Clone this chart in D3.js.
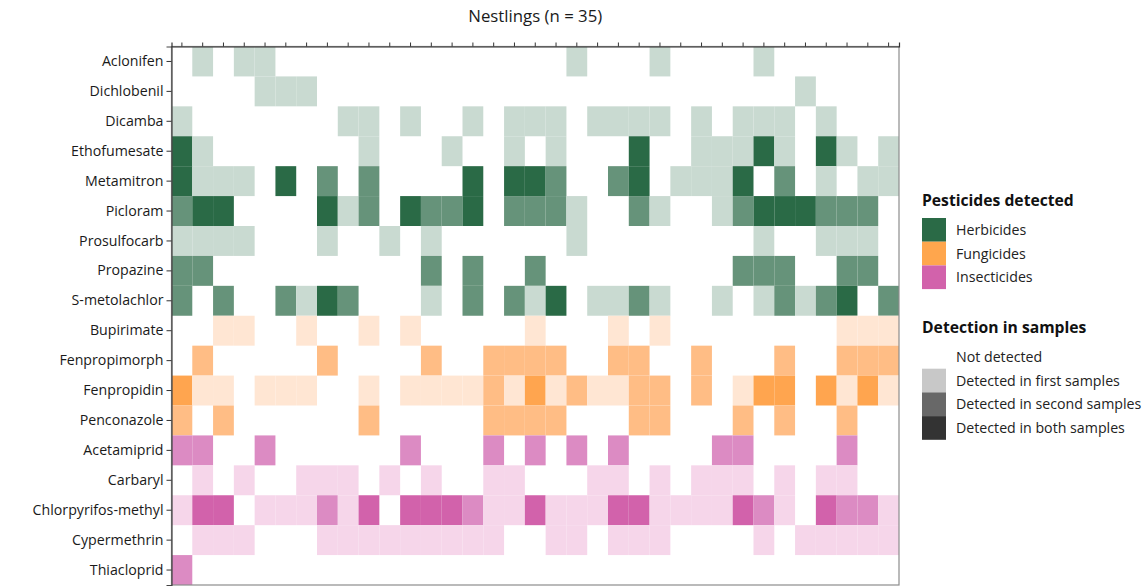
<!DOCTYPE html>
<html>
<head>
<meta charset="utf-8">
<script src="https://cdn.jsdelivr.net/npm/d3@7"></script>
<style>
  html, body { margin: 0; padding: 0; background: #fff; }
  svg { display: block; font-family: "Open Sans", "Noto Sans", sans-serif; }
</style>
</head>
<body>
<svg id="chart" width="1148" height="588"></svg>
<script>
// ---- data ----
const title = "Nestlings (n = 35)";
const nestlings = d3.range(1, 36);
const pesticides = ["Aclonifen","Dichlobenil","Dicamba","Ethofumesate","Metamitron","Picloram",
  "Prosulfocarb","Propazine","S-metolachlor","Bupirimate","Fenpropimorph","Fenpropidin",
  "Penconazole","Acetamiprid","Carbaryl","Chlorpyrifos-methyl","Cypermethrin","Thiacloprid"];
const pesticideClass = ["Herbicides","Herbicides","Herbicides","Herbicides","Herbicides","Herbicides",
  "Herbicides","Herbicides","Herbicides","Fungicides","Fungicides","Fungicides",
  "Fungicides","Insecticides","Insecticides","Insecticides","Insecticides","Insecticides"];
const classNames = ["Herbicides","Fungicides","Insecticides"];
const detectionLabels = ["Not detected","Detected in first samples","Detected in second samples","Detected in both samples"];
// 0 = not detected, 1 = first samples, 2 = second samples, 3 = both samples
const detections = [
  [0,1,0,1,1, 0,0,0,0,0, 0,0,0,0,0, 0,0,0,0,1, 0,0,0,1,0, 0,0,0,1,0, 0,0,0,0,0],
  [0,0,0,0,1, 1,1,0,0,0, 0,0,0,0,0, 0,0,0,0,0, 0,0,0,0,0, 0,0,0,0,0, 1,0,0,0,0],
  [1,0,0,0,0, 0,0,0,1,1, 0,1,0,0,1, 0,1,1,1,0, 1,1,1,1,0, 1,0,1,1,1, 0,1,0,0,0],
  [3,1,0,0,0, 0,0,0,0,1, 0,0,0,1,0, 0,1,0,1,0, 0,0,3,0,0, 1,1,1,3,1, 0,3,1,0,1],
  [3,1,1,1,0, 3,0,2,0,2, 0,0,0,0,3, 0,3,3,2,0, 0,2,3,0,1, 1,1,3,0,2, 0,1,0,1,1],
  [2,3,3,0,0, 0,0,3,1,2, 0,3,2,2,3, 0,2,2,2,1, 0,0,2,1,0, 0,1,2,3,3, 3,2,2,2,0],
  [1,1,1,1,0, 0,0,1,0,0, 1,0,1,0,0, 0,0,0,0,1, 0,0,0,0,0, 0,0,0,1,0, 0,1,1,1,0],
  [2,2,0,0,0, 0,0,0,0,0, 0,0,2,0,2, 0,0,2,0,0, 0,0,0,0,0, 0,0,2,2,2, 0,0,2,2,0],
  [2,0,2,0,0, 2,1,3,2,0, 0,0,1,0,2, 0,2,1,3,0, 1,1,2,1,0, 0,1,0,1,2, 1,2,3,0,2],
  [0,0,1,1,0, 0,1,0,0,1, 0,1,0,0,0, 0,0,1,0,0, 0,1,0,1,0, 0,0,0,0,0, 0,0,1,1,1],
  [0,2,0,0,0, 0,0,2,0,0, 0,0,2,0,0, 2,2,2,2,0, 0,2,2,0,0, 2,0,0,0,2, 0,0,2,2,2],
  [3,1,1,0,1, 1,1,0,0,1, 0,1,1,1,1, 2,1,3,1,2, 1,1,2,2,0, 2,0,1,3,3, 0,3,1,3,1],
  [2,0,2,0,0, 0,0,0,0,2, 0,0,0,0,0, 2,2,2,2,0, 0,0,2,2,0, 0,0,2,0,2, 0,0,2,0,0],
  [2,2,0,0,2, 0,0,0,0,0, 0,2,0,0,0, 2,0,2,0,2, 0,2,0,0,0, 0,2,2,0,0, 0,0,2,0,0],
  [0,1,0,1,0, 0,1,1,1,0, 1,0,1,0,0, 1,1,0,0,0, 1,1,0,1,0, 1,1,1,0,1, 0,1,1,0,0],
  [1,3,3,0,1, 1,1,2,1,3, 0,3,3,3,2, 1,1,3,1,1, 1,3,3,1,1, 1,1,3,2,1, 0,3,2,2,1],
  [0,1,1,1,0, 0,0,1,1,1, 1,1,1,1,1, 1,0,0,1,1, 0,1,1,1,0, 0,0,0,1,0, 1,1,1,1,1],
  [2,0,0,0,0, 0,0,0,0,0, 0,0,0,0,0, 0,0,0,0,0, 0,0,0,0,0, 0,0,0,0,0, 0,0,0,0,0]
];

// ---- styles ----
const palette = {
  Herbicides:   ["#ffffff", "#c9dad1", "#66937a", "#2a6a46"],
  Fungicides:   ["#ffffff", "#ffe6d3", "#ffbd85", "#ffa54f"],
  Insecticides: ["#ffffff", "#f6d6ea", "#dc8bc3", "#d262ab"]
};
const legendClassColor = { Herbicides: "#2a6a46", Fungicides: "#ffa64d", Insecticides: "#d262ab" };
const grayLevels = ["#ffffff", "#c8c8c8", "#686868", "#333333"];

const svg = d3.select("#chart");
const x = d3.scaleBand().domain(nestlings).range([171.5, 899]).padding(0);
const y = d3.scaleBand().domain(pesticides).range([46.5, 585]).padding(0);

const cells = [];
detections.forEach((row, r) => row.forEach((v, c) => {
  if (v > 0) cells.push({ p: pesticides[r], cls: pesticideClass[r], n: nestlings[c], v });
}));

svg.append("g").selectAll("rect").data(cells).join("rect")
  .attr("x", d => x(d.n)).attr("y", d => y(d.p))
  .attr("width", x.bandwidth()).attr("height", y.bandwidth())
  .attr("fill", d => palette[d.cls][d.v]);

// panel border
svg.append("rect").attr("x", 171.5).attr("y", 46.5).attr("width", 899 - 171.5).attr("height", 585 - 46.5)
  .attr("fill", "none").attr("stroke", "#8c8c8c").attr("stroke-width", 1.2);

// top axis (ticks only)
const gTop = svg.append("g").attr("transform", "translate(0,46.5)")
  .call(d3.axisTop(x).tickSize(4).tickFormat(""));
gTop.select(".domain").attr("stroke", "#333").attr("stroke-width", 1.2);
gTop.selectAll(".tick line").attr("stroke", "#333");

// left axis
const gLeft = svg.append("g").attr("transform", "translate(171.5,0)")
  .call(d3.axisLeft(y).tickSize(5).tickPadding(3));
gLeft.select(".domain").attr("stroke", "#444").attr("stroke-width", 1.2);
gLeft.selectAll(".tick line").attr("stroke", "#333");
gLeft.selectAll(".tick text").attr("font-size", 14.2).attr("fill", "#1a1a1a")
  .attr("font-family", "'Open Sans', sans-serif");

// title
svg.append("text").attr("x", (171.5 + 899) / 2).attr("y", 22).attr("text-anchor", "middle")
  .attr("font-size", 16.8).attr("fill", "#1a1a1a").text(title);

// legend 1
const lg = svg.append("g");
lg.append("text").attr("x", 922).attr("y", 206).attr("font-size", 15.7).attr("font-weight", "bold")
  .attr("fill", "#111").text("Pesticides detected");
classNames.forEach((c, i) => {
  lg.append("rect").attr("x", 922).attr("y", 218 + i * 23.7).attr("width", 24).attr("height", 23.7)
    .attr("fill", legendClassColor[c]);
  lg.append("text").attr("x", 956).attr("y", 218 + i * 23.7 + 12).attr("dy", "0.35em")
    .attr("font-size", 14.2).attr("fill", "#222").text(c);
});

// legend 2
lg.append("text").attr("x", 922).attr("y", 333).attr("font-size", 15.7).attr("font-weight", "bold")
  .attr("fill", "#111").text("Detection in samples");
detectionLabels.forEach((t, i) => {
  lg.append("rect").attr("x", 922).attr("y", 345 + i * 23.7).attr("width", 24).attr("height", 23.7)
    .attr("fill", grayLevels[i]);
  lg.append("text").attr("x", 956).attr("y", 345 + i * 23.7 + 12).attr("dy", "0.35em")
    .attr("font-size", 14.2).attr("fill", "#222").text(t);
});
</script>
</body>
</html>
